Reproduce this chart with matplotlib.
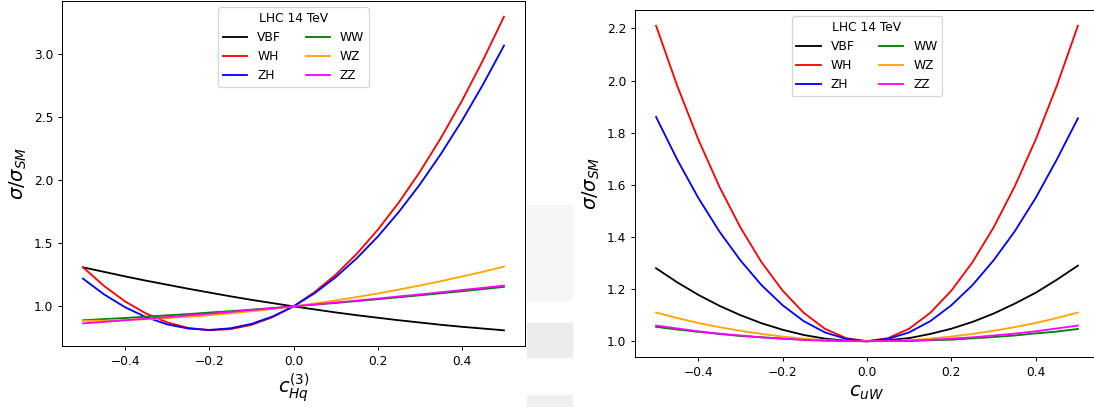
import matplotlib
matplotlib.use('Agg')
import matplotlib.pyplot as plt
from matplotlib.patches import Rectangle

# coupling values (same grid on both panels)
x_vals = [-0.5, -0.45, -0.4, -0.35, -0.3, -0.25, -0.2, -0.15, -0.1, -0.05, 0.0,
          0.05, 0.1, 0.15, 0.2, 0.25, 0.3, 0.35, 0.4, 0.45, 0.5]

# left panel: c_Hq^(3)
hq_vbf = [1.310, 1.274, 1.238, 1.204, 1.172, 1.140, 1.110, 1.080, 1.052, 1.026, 1.000,
          0.976, 0.952, 0.930, 0.910, 0.890, 0.872, 0.854, 0.838, 0.824, 0.810]
hq_wh = [1.310, 1.162, 1.039, 0.943, 0.873, 0.829, 0.811, 0.819, 0.853, 0.914, 1.000,
         1.113, 1.251, 1.416, 1.607, 1.824, 2.067, 2.336, 2.631, 2.953, 3.300]
hq_zh = [1.220, 1.095, 0.993, 0.914, 0.857, 0.824, 0.813, 0.826, 0.861, 0.919, 1.000,
         1.104, 1.231, 1.381, 1.553, 1.749, 1.967, 2.209, 2.473, 2.760, 3.070]
hq_ww = [0.890, 0.899, 0.908, 0.918, 0.929, 0.939, 0.951, 0.962, 0.974, 0.987, 1.000,
         1.014, 1.027, 1.042, 1.057, 1.072, 1.088, 1.104, 1.120, 1.137, 1.155]
hq_wz = [0.885, 0.887, 0.892, 0.898, 0.907, 0.917, 0.930, 0.944, 0.961, 0.979, 1.000,
         1.023, 1.047, 1.074, 1.102, 1.133, 1.166, 1.200, 1.237, 1.275, 1.316]
hq_zz = [0.865, 0.877, 0.890, 0.902, 0.915, 0.929, 0.942, 0.956, 0.971, 0.985, 1.000,
         1.015, 1.031, 1.046, 1.062, 1.079, 1.095, 1.112, 1.130, 1.147, 1.165]

# right panel: c_uW
uw_vbf = [1.280, 1.226, 1.178, 1.136, 1.100, 1.069, 1.044, 1.024, 1.010, 1.002, 1.000,
          1.004, 1.012, 1.028, 1.048, 1.074, 1.106, 1.144, 1.186, 1.236, 1.290]
uw_wh = [2.210, 1.980, 1.774, 1.593, 1.436, 1.303, 1.194, 1.109, 1.048, 1.012, 1.000,
         1.012, 1.048, 1.109, 1.194, 1.303, 1.436, 1.593, 1.774, 1.980, 2.210]
uw_zh = [1.860, 1.697, 1.550, 1.421, 1.310, 1.215, 1.138, 1.077, 1.034, 1.009, 1.000,
         1.009, 1.034, 1.077, 1.138, 1.215, 1.310, 1.421, 1.550, 1.697, 1.855]
uw_ww = [1.055, 1.045, 1.036, 1.028, 1.020, 1.015, 1.010, 1.006, 1.003, 1.001, 1.000,
         1.001, 1.001, 1.004, 1.006, 1.011, 1.016, 1.022, 1.030, 1.037, 1.047]
uw_wz = [1.110, 1.089, 1.070, 1.054, 1.040, 1.028, 1.018, 1.010, 1.004, 1.001, 1.000,
         1.001, 1.004, 1.010, 1.018, 1.028, 1.040, 1.054, 1.070, 1.089, 1.110]
uw_zz = [1.060, 1.049, 1.038, 1.029, 1.022, 1.015, 1.010, 1.005, 1.002, 1.001, 1.000,
         1.001, 1.002, 1.005, 1.010, 1.015, 1.022, 1.029, 1.038, 1.049, 1.060]

labels = ['VBF', 'WH', 'ZH', 'WW', 'WZ', 'ZZ']
colors = ['black', 'red', 'blue', 'green', 'orange', 'magenta']

fig = plt.figure(figsize=(1094 / 88, 407 / 88), dpi=88)

# faint watermark strip between the two panels
fig.patches.append(Rectangle((527 / 1094, 1 - 300 / 407), 45 / 1094, 95 / 407,
                             transform=fig.transFigure, color='#f6f6f6', zorder=0))
fig.patches.append(Rectangle((527 / 1094, 1 - 357 / 407), 45 / 1094, 34 / 407,
                             transform=fig.transFigure, color='#ececec', zorder=0))
fig.patches.append(Rectangle((527 / 1094, 0), 45 / 1094, 12 / 407,
                             transform=fig.transFigure, color='#efefef', zorder=0))

ax1 = fig.add_axes([62 / 1094, 1 - 346 / 407, 463 / 1094, 345 / 407])
ax2 = fig.add_axes([635 / 1094, 1 - 357 / 407, 464 / 1094, 347 / 407])

panels = [
    (ax1, [hq_vbf, hq_wh, hq_zh, hq_ww, hq_wz, hq_zz], r'$c_{Hq}^{(3)}$'),
    (ax2, [uw_vbf, uw_wh, uw_zh, uw_ww, uw_wz, uw_zz], r'$c_{uW}$'),
]

for ax, series, xlab in panels:
    for ys, lab, col in zip(series, labels, colors):
        ax.plot(x_vals, ys, color=col, label=lab, lw=1.5)
    ax.set_xlabel(xlab, fontsize=16)
    ax.set_ylabel(r'$\sigma/\sigma_{SM}$', fontsize=16)
    ax.set_xlim(-0.55, 0.55)
    ax.set_xticks([-0.4, -0.2, 0.0, 0.2, 0.4])
    ax.legend(loc='upper center', ncol=2, title='LHC 14 TeV')

ax2.set_yticks([1.0, 1.2, 1.4, 1.6, 1.8, 2.0, 2.2])

plt.savefig('out.png', dpi=88)
